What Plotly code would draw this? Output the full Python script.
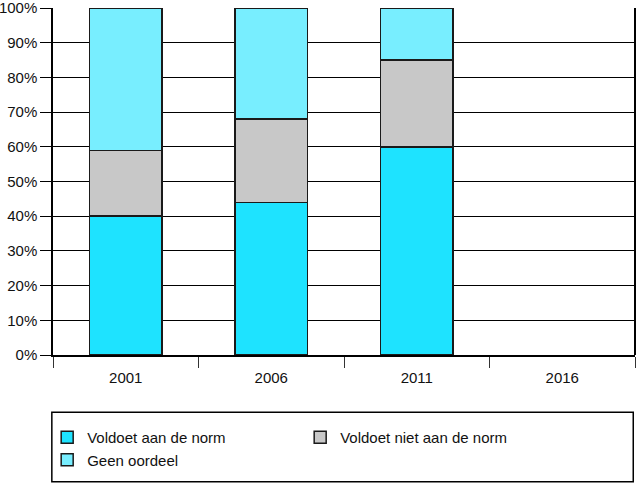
import plotly.graph_objects as go

years = ["2001", "2006", "2011", "2016"]
voldoet = [40, 44, 60, 0]
niet = [19, 24, 25, 0]
geen = [41, 32, 15, 0]
yticks = list(range(0, 101, 10))
ytick_labels = [f"{v}%" for v in yticks]

series = [
    ("Voldoet aan de norm", voldoet, "#1EE3FF"),
    ("Voldoet niet aan de norm", niet, "#C8C8C8"),
    ("Geen oordeel", geen, "#78EEFF"),
]

fig = go.Figure()
for name, vals, col in series:
    fig.add_trace(go.Bar(
        x=years, y=vals, name=name,
        marker=dict(color=col,
                    line=dict(color="#1a1a1a", width=[1.5 if v > 0 else 0 for v in vals])),
    ))

font = dict(family="Liberation Sans, Arial, sans-serif", size=15, color="#111")
fig.update_layout(
    barmode="stack",
    bargap=0.5,
    width=637, height=485,
    margin=dict(l=53, r=2, t=8, b=130, autoexpand=False),
    plot_bgcolor="white", paper_bgcolor="white",
    font=font,
    showlegend=True,
    legend=dict(
        orientation="h", x=-0.01, y=-0.19, xanchor="left", yanchor="top",
        entrywidth=208, traceorder="normal", tracegroupgap=0,
        font=font, bgcolor="rgba(0,0,0,0)",
    ),
    xaxis=dict(
        showline=True, linecolor="black", linewidth=1.5, automargin=False,
        ticks="outside", tickson="boundaries", ticklen=11, tickcolor="#333",
        tickwidth=1, showgrid=False, mirror=False, ticklabelstandoff=8,
    ),
    yaxis=dict(
        range=[0, 100], tickvals=yticks, ticktext=ytick_labels,
        ticklabeloverflow="allow", automargin=False,
        showgrid=True, gridcolor="black", gridwidth=1,
        showline=True, linecolor="black", linewidth=1.5,
        ticks="outside", ticklen=11, tickcolor="black", zeroline=False,
    ),
    shapes=[
        dict(type="line", xref="paper", yref="paper", x0=1, x1=1, y0=0, y1=1,
             line=dict(color="black", width=2)),
        dict(type="rect", xref="paper", yref="paper", x0=-0.002, x1=0.997,
             y0=-0.165, y1=-0.365, line=dict(color="black", width=1.5)),
    ],
)

fig.write_html("out.html")
